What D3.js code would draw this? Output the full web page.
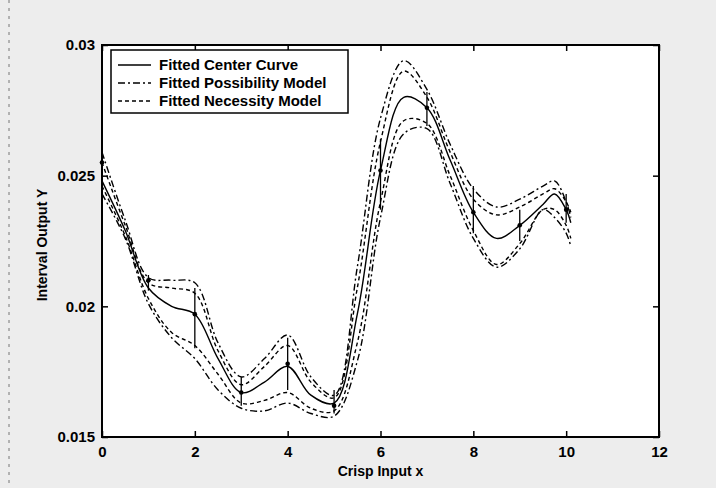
<!DOCTYPE html>
<html>
<head>
<meta charset="utf-8">
<script src="https://cdn.jsdelivr.net/npm/d3@7"></script>
<style>
  html, body { margin: 0; padding: 0; background: #ededed; }
  svg { display: block; }
  text { font-family: "Liberation Sans", Arial, sans-serif; font-weight: bold; fill: #000; }
</style>
</head>
<body>
<svg id="chart" width="716" height="488"></svg>
<script>
// sample positions of the fitted curves
const xGrid = [0, 0.5, 1, 1.5, 2, 2.5, 3, 3.5, 4, 4.5, 5, 5.5, 6, 6.5, 7, 7.5, 8, 8.5, 9, 9.5, 9.75, 10, 10.1];

// fitted curves
const centerCurve = [0.0248, 0.0229, 0.0207, 0.0200, 0.0197, 0.0180, 0.0167, 0.0171, 0.0177, 0.0166, 0.0163, 0.0197, 0.0252, 0.0280, 0.0276, 0.0256, 0.0236, 0.0226, 0.0231, 0.0239, 0.0243, 0.0237, 0.0232];
const possUpper   = [0.0259, 0.0233, 0.0211, 0.0210, 0.0209, 0.0186, 0.0173, 0.0180, 0.0189, 0.0173, 0.0166, 0.0215, 0.0272, 0.0294, 0.0283, 0.0262, 0.0245, 0.0238, 0.0241, 0.0246, 0.0248, 0.0240, 0.0234];
const necUpper    = [0.0255, 0.0231, 0.0209, 0.0207, 0.0205, 0.0183, 0.0170, 0.0177, 0.0185, 0.0171, 0.0165, 0.0207, 0.0263, 0.0290, 0.0280, 0.0259, 0.0241, 0.0235, 0.0238, 0.0243, 0.0245, 0.0240, 0.0236];
const necLower    = [0.0246, 0.0227, 0.0203, 0.0190, 0.0185, 0.0174, 0.0163, 0.0164, 0.0167, 0.0161, 0.0160, 0.0186, 0.0240, 0.0271, 0.0270, 0.0250, 0.0229, 0.0216, 0.0224, 0.0237, 0.0237, 0.0231, 0.0226];
const possLower   = [0.0243, 0.0226, 0.0201, 0.0188, 0.0180, 0.0168, 0.0161, 0.0160, 0.0163, 0.0159, 0.0158, 0.0179, 0.0234, 0.0266, 0.0268, 0.0247, 0.0226, 0.0215, 0.0222, 0.0237, 0.0234, 0.0228, 0.0223];

// observed intervals at integer inputs
const obsX      = [0, 1, 2, 3, 4, 5, 6, 7, 8, 9, 10];
const obsCenter = [0.0255, 0.0210, 0.0197, 0.0167, 0.0178, 0.0162, 0.0252, 0.0276, 0.0236, 0.0231, 0.0237];
const obsLow    = [0.0246, 0.0206, 0.0184, 0.0162, 0.0168, 0.0159, 0.0237, 0.0269, 0.0228, 0.0225, 0.0232];
const obsHigh   = [0.0258, 0.0212, 0.0207, 0.0173, 0.0188, 0.0168, 0.0264, 0.0282, 0.0246, 0.0237, 0.0243];

const xTicks = [0, 2, 4, 6, 8, 10, 12];
const yTicks = [0.015, 0.02, 0.025, 0.03];

const legendItems = [
    { label: 'Fitted Center Curve', dash: null },
    { label: 'Fitted Possibility Model', dash: '7,3,2,3' },
    { label: 'Fitted Necessity Model', dash: '4,3' }
];

const margin = { left: 102, right: 57, top: 45, bottom: 51 };
const W = 716, H = 488;
const pw = W - margin.left - margin.right;
const ph = H - margin.top - margin.bottom;

const svg = d3.select('#chart');

// scan edge on the far left
svg.append('line')
    .attr('x1', 9).attr('x2', 9).attr('y1', 0).attr('y2', H)
    .attr('stroke', '#777').attr('stroke-width', 1).attr('stroke-dasharray', '3,5');

const x = d3.scaleLinear().domain([0, 12]).range([0, pw]);
const y = d3.scaleLinear().domain([0.015, 0.03]).range([ph, 0]);

const g = svg.append('g').attr('transform', `translate(${margin.left},${margin.top})`);

// white plot area
g.append('rect').attr('width', pw).attr('height', ph).attr('fill', '#fff');

// curves
const line = d3.line()
    .x(d => x(d[0]))
    .y(d => y(d[1]))
    .curve(d3.curveCatmullRom.alpha(0.5));

function drawCurve(values, dash) {
    g.append('path')
        .datum(xGrid.map((v, i) => [v, values[i]]))
        .attr('d', line)
        .attr('fill', 'none')
        .attr('stroke', '#000')
        .attr('stroke-width', 1.4)
        .attr('stroke-dasharray', dash);
}

drawCurve(possUpper, '7,3,2,3');
drawCurve(possLower, '7,3,2,3');
drawCurve(necUpper, '4,3');
drawCurve(necLower, '4,3');
drawCurve(centerCurve, null);

// interval bars and centre dots
obsX.forEach((v, i) => {
    g.append('line')
        .attr('x1', x(v)).attr('x2', x(v))
        .attr('y1', y(obsLow[i])).attr('y2', y(obsHigh[i]))
        .attr('stroke', '#000').attr('stroke-width', 1.3);
    g.append('circle')
        .attr('cx', x(v)).attr('cy', y(obsCenter[i]))
        .attr('r', 2.3).attr('fill', '#000');
});

// axes (ticks inward, box on)
const tickLen = 6;
const axisBottom = d3.axisBottom(x).tickValues(xTicks).tickSizeInner(-tickLen).tickSizeOuter(0).tickPadding(9).tickFormat(d3.format('d'));
const axisLeft = d3.axisLeft(y).tickValues(yTicks).tickSizeInner(-tickLen).tickSizeOuter(0).tickPadding(7).tickFormat(d => String(+d.toFixed(3)));
const axisTop = d3.axisTop(x).tickValues(xTicks).tickSizeInner(-tickLen).tickSizeOuter(0).tickFormat('');
const axisRight = d3.axisRight(y).tickValues(yTicks).tickSizeInner(-tickLen).tickSizeOuter(0).tickFormat('');

function styleAxis(sel) {
    sel.select('.domain').remove();
    sel.selectAll('.tick line').attr('stroke', '#000').attr('stroke-width', 1.5);
    sel.selectAll('.tick text').style('font-size', '15px').attr('fill', '#000');
}

g.append('g').attr('transform', `translate(0,${ph})`).call(axisBottom).call(styleAxis);
g.append('g').call(axisLeft).call(styleAxis);
g.append('g').call(axisTop).call(styleAxis);
g.append('g').attr('transform', `translate(${pw},0)`).call(axisRight).call(styleAxis);

// frame
g.append('rect').attr('width', pw).attr('height', ph)
    .attr('fill', 'none').attr('stroke', '#000').attr('stroke-width', 2);

// axis labels
svg.append('text')
    .attr('x', margin.left + pw / 2).attr('y', 476)
    .attr('text-anchor', 'middle')
    .style('font-size', '14px')
    .text('Crisp Input x');

svg.append('text')
    .attr('transform', `translate(47,${margin.top + ph / 2 + 4}) rotate(-90)`)
    .attr('text-anchor', 'middle')
    .style('font-size', '14px')
    .text('Interval Output Y');

// legend
const lg = g.append('g').attr('transform', 'translate(9,5)');
lg.append('rect').attr('width', 237).attr('height', 63)
    .attr('fill', '#fff').attr('stroke', '#000').attr('stroke-width', 1.5);

legendItems.forEach((item, i) => {
    const ly = 15 + i * 18;
    lg.append('line')
        .attr('x1', 7).attr('x2', 40).attr('y1', ly).attr('y2', ly)
        .attr('stroke', '#000').attr('stroke-width', 1.4)
        .attr('stroke-dasharray', item.dash);
    lg.append('text')
        .attr('x', 48).attr('y', ly + 5)
        .style('font-size', '15px')
        .text(item.label);
});
</script>
</body>
</html>
